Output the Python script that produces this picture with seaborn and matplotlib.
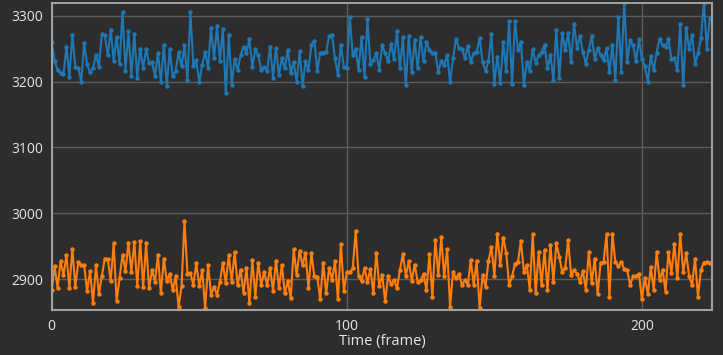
import numpy as np
import matplotlib
matplotlib.use('Agg')
import matplotlib.pyplot as plt
import seaborn as sns

# values, one per frame
series_a = [3260, 3231, 3217, 3213, 3211, 3253, 3207, 3271, 3222, 3221,
            3200, 3258, 3226, 3214, 3220, 3241, 3222, 3272, 3270, 3240,
            3279, 3231, 3268, 3226, 3306, 3216, 3276, 3208, 3272, 3206,
            3250, 3220, 3249, 3228, 3229, 3208, 3244, 3200, 3256, 3193,
            3249, 3208, 3216, 3245, 3223, 3255, 3202, 3306, 3223, 3232,
            3200, 3225, 3245, 3221, 3282, 3235, 3284, 3231, 3280, 3182,
            3270, 3195, 3234, 3218, 3240, 3253, 3244, 3264, 3222, 3249,
            3240, 3217, 3222, 3216, 3253, 3206, 3251, 3210, 3235, 3220,
            3248, 3213, 3230, 3200, 3246, 3193, 3231, 3217, 3256, 3262,
            3216, 3244, 3244, 3245, 3269, 3271, 3235, 3210, 3256, 3222,
            3220, 3298, 3240, 3249, 3218, 3268, 3207, 3295, 3226, 3232,
            3243, 3218, 3255, 3243, 3231, 3257, 3234, 3276, 3220, 3267,
            3194, 3269, 3215, 3263, 3220, 3267, 3231, 3260, 3248, 3244,
            3243, 3215, 3231, 3225, 3241, 3200, 3235, 3265, 3251, 3250,
            3235, 3254, 3230, 3243, 3245, 3266, 3230, 3216, 3231, 3272,
            3197, 3238, 3198, 3260, 3216, 3292, 3197, 3292, 3248, 3260,
            3194, 3230, 3216, 3249, 3228, 3240, 3245, 3256, 3220, 3240,
            3202, 3279, 3206, 3274, 3248, 3274, 3230, 3288, 3251, 3269,
            3245, 3227, 3248, 3269, 3234, 3251, 3240, 3232, 3251, 3214,
            3256, 3203, 3298, 3215, 3320, 3230, 3263, 3255, 3231, 3264,
            3234, 3223, 3200, 3239, 3218, 3244, 3265, 3255, 3253, 3264,
            3234, 3235, 3217, 3287, 3194, 3282, 3249, 3271, 3227, 3243,
            3266, 3320, 3250, 3296]

series_b = [2883, 2919, 2887, 2927, 2906, 2936, 2887, 2946, 2888, 2926,
            2921, 2921, 2882, 2912, 2863, 2921, 2877, 2905, 2931, 2930,
            2897, 2954, 2867, 2901, 2937, 2912, 2955, 2911, 2956, 2889,
            2957, 2888, 2954, 2886, 2914, 2896, 2936, 2878, 2931, 2897,
            2908, 2883, 2904, 2857, 2889, 2988, 2908, 2909, 2891, 2924,
            2889, 2913, 2856, 2921, 2876, 2888, 2876, 2896, 2924, 2894,
            2936, 2896, 2941, 2891, 2914, 2879, 2917, 2863, 2929, 2873,
            2925, 2891, 2910, 2891, 2917, 2882, 2928, 2886, 2921, 2878,
            2897, 2871, 2945, 2906, 2943, 2921, 2940, 2886, 2939, 2904,
            2903, 2869, 2925, 2878, 2916, 2899, 2927, 2869, 2953, 2882,
            2910, 2910, 2916, 2973, 2904, 2897, 2916, 2896, 2915, 2878,
            2940, 2889, 2906, 2866, 2905, 2892, 2898, 2886, 2914, 2938,
            2905, 2927, 2897, 2922, 2896, 2898, 2908, 2883, 2938, 2872,
            2959, 2906, 2964, 2904, 2945, 2858, 2911, 2901, 2908, 2891,
            2898, 2891, 2929, 2891, 2927, 2856, 2906, 2888, 2927, 2949,
            2905, 2969, 2921, 2963, 2940, 2891, 2904, 2923, 2926, 2958,
            2911, 2921, 2884, 2968, 2878, 2941, 2891, 2944, 2883, 2952,
            2896, 2954, 2934, 2911, 2916, 2959, 2906, 2913, 2908, 2896,
            2912, 2884, 2941, 2894, 2931, 2877, 2925, 2926, 2968, 2873,
            2968, 2926, 2920, 2926, 2915, 2914, 2891, 2904, 2905, 2908,
            2869, 2902, 2877, 2918, 2884, 2941, 2898, 2914, 2881, 2941,
            2909, 2953, 2901, 2968, 2910, 2939, 2904, 2891, 2931, 2873,
            2914, 2925, 2926, 2925]

frames = np.arange(len(series_a))
x_ticks = [0, 100, 200]
y_ticks = [2900, 3000, 3100, 3200, 3300]

bg = '#2d2d2d'
text_col = '#e6e6e6'

sns.set_style('dark')
plt.rcParams['font.family'] = ['Open Sans', 'DejaVu Sans']

fig = plt.figure(figsize=(7.23, 3.55), dpi=100, facecolor=bg)
ax = fig.add_axes([0.0715, 0.126, 0.9135, 0.865])
ax.set_facecolor(bg)

sns.lineplot(x=frames, y=series_a, ax=ax, color='#1f77b4', lw=1.5,
             marker='o', markersize=3.2, markeredgewidth=0)
sns.lineplot(x=frames, y=series_b, ax=ax, color='#ff7f0e', lw=1.5,
             marker='o', markersize=3.2, markeredgewidth=0)

ax.set_xlim(0, 223.8)
ax.set_ylim(2852.5, 3319)
ax.set_xticks(x_ticks)
ax.set_yticks(y_ticks)
ax.grid(True, color='#5c5c5c', lw=1)
ax.set_axisbelow(True)
ax.tick_params(colors='#6a6a6a', labelcolor=text_col, labelsize=10,
               length=4, width=1, pad=2)
for s in ax.spines.values():
    s.set_visible(True)
    s.set_color('#a0a0a0')
    s.set_linewidth(1.5)

ax.set_xlabel('Time (frame)', color=text_col, fontsize=10.5, labelpad=0)
ax.set_ylabel('')

fig.savefig('out.png', dpi=100, facecolor=bg)
